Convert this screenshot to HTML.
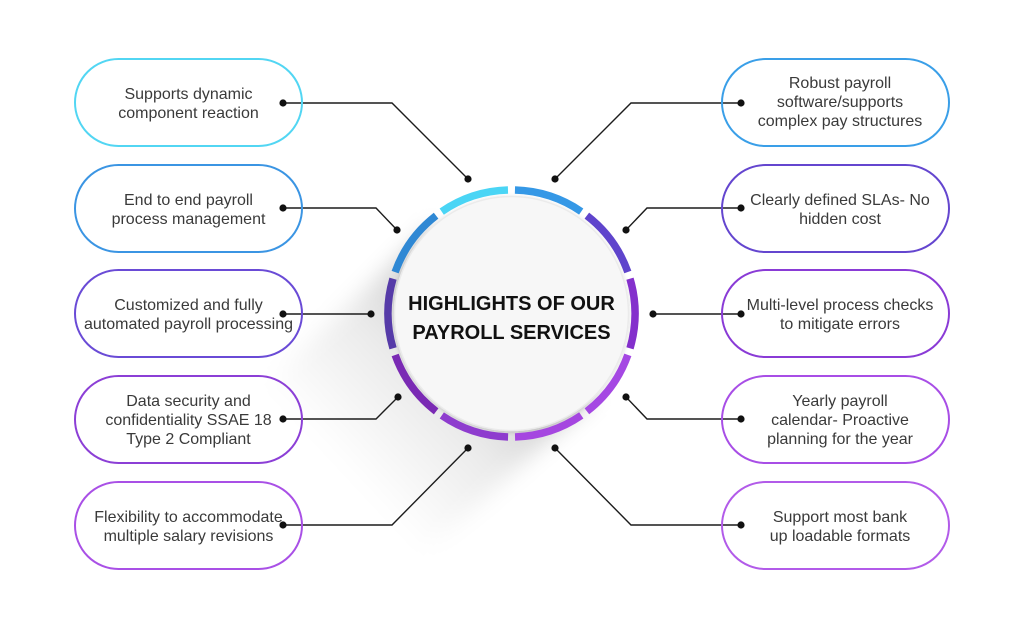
<!DOCTYPE html>
<html>
<head>
<meta charset="utf-8">
<style>
  html,body{margin:0;padding:0;background:#ffffff;}
  svg{display:block;}
  .t{font-family:"Liberation Sans",Arial,sans-serif;font-size:16px;fill:#3a3a3a;text-anchor:middle;}
  .h{font-family:"Liberation Sans",Arial,sans-serif;font-size:20px;font-weight:bold;fill:#111;text-anchor:middle;}
</style>
</head>
<body>
<svg width="1024" height="637" viewBox="0 0 1024 637" xmlns="http://www.w3.org/2000/svg">
  <defs>
    <linearGradient id="sg" x1="0" y1="0" x2="0" y2="1">
      <stop offset="0" stop-color="#000" stop-opacity="0.24"/>
      <stop offset="0.5" stop-color="#000" stop-opacity="0.08"/>
      <stop offset="1" stop-color="#000" stop-opacity="0"/>
    </linearGradient>
    <filter id="blur" x="-50%" y="-50%" width="200%" height="200%">
      <feGaussianBlur stdDeviation="11"/>
    </filter>
    <filter id="cs" x="-20%" y="-20%" width="140%" height="140%">
      <feDropShadow dx="0" dy="1" stdDeviation="2" flood-color="#000" flood-opacity="0.15"/>
    </filter>
  </defs>

  <!-- long shadow -->
  <g transform="rotate(47 511.5 313.5)" filter="url(#blur)">
    <rect x="394.5" y="313.5" width="234" height="230" fill="url(#sg)"/>
  </g>

  <!-- connectors -->
  <g fill="none" stroke="#1c1c1c" stroke-width="1.4">
    <polyline points="283,103 392,103 468,179"/>
    <polyline points="283,208 376,208 397,230"/>
    <polyline points="283,314 371,314"/>
    <polyline points="283,419 376,419 398,397"/>
    <polyline points="283,525 392,525 468,448"/>
    <polyline points="741,103 631,103 555,179"/>
    <polyline points="741,208 647,208 626,230"/>
    <polyline points="741,314 653,314"/>
    <polyline points="741,419 647,419 626,397"/>
    <polyline points="741,525 631,525 555,448"/>
  </g>

  <!-- boxes -->
  <g fill="none" stroke-width="2">
    <rect x="75" y="59" width="227" height="87" rx="43.5" stroke="#52d6f3"/>
    <rect x="75" y="165" width="227" height="87" rx="43.5" stroke="#3b95e3"/>
    <rect x="75" y="270" width="227" height="87" rx="43.5" stroke="#6a4bd6"/>
    <rect x="75" y="376" width="227" height="87" rx="43.5" stroke="#8c3fd6"/>
    <rect x="75" y="482" width="227" height="87" rx="43.5" stroke="#a950e6"/>
    <rect x="722" y="59" width="227" height="87" rx="43.5" stroke="#3a9fe8"/>
    <rect x="722" y="165" width="227" height="87" rx="43.5" stroke="#6446cf"/>
    <rect x="722" y="270" width="227" height="87" rx="43.5" stroke="#8a3bd6"/>
    <rect x="722" y="376" width="227" height="87" rx="43.5" stroke="#a84ee6"/>
    <rect x="722" y="482" width="227" height="87" rx="43.5" stroke="#b25be9"/>
  </g>

  <!-- box texts left -->
  <text class="t" x="188.5" y="99">Supports dynamic</text>
  <text class="t" x="188.5" y="118">component reaction</text>

  <text class="t" x="188.5" y="205">End to end payroll</text>
  <text class="t" x="188.5" y="224">process management</text>

  <text class="t" x="188.5" y="310">Customized and fully</text>
  <text class="t" x="188.5" y="329">automated payroll processing</text>

  <text class="t" x="188.5" y="406">Data security and</text>
  <text class="t" x="188.5" y="425">confidentiality SSAE 18</text>
  <text class="t" x="188.5" y="444">Type 2 Compliant</text>

  <text class="t" x="188.5" y="522">Flexibility to accommodate</text>
  <text class="t" x="188.5" y="541">multiple salary revisions</text>

  <!-- box texts right -->
  <text class="t" x="840" y="88">Robust payroll</text>
  <text class="t" x="840" y="107">software/supports</text>
  <text class="t" x="840" y="126">complex pay structures</text>

  <text class="t" x="840" y="205">Clearly defined SLAs- No</text>
  <text class="t" x="840" y="224">hidden cost</text>

  <text class="t" x="840" y="310">Multi-level process checks</text>
  <text class="t" x="840" y="329">to mitigate errors</text>

  <text class="t" x="840" y="406">Yearly payroll</text>
  <text class="t" x="840" y="425">calendar- Proactive</text>
  <text class="t" x="840" y="444">planning for the year</text>

  <text class="t" x="840" y="522">Support most bank</text>
  <text class="t" x="840" y="541">up loadable formats</text>

  <!-- dots -->
  <g fill="#111">
    <circle cx="283" cy="103" r="3.6"/><circle cx="468" cy="179" r="3.6"/>
    <circle cx="283" cy="208" r="3.6"/><circle cx="397" cy="230" r="3.6"/>
    <circle cx="283" cy="314" r="3.6"/><circle cx="371" cy="314" r="3.6"/>
    <circle cx="283" cy="419" r="3.6"/><circle cx="398" cy="397" r="3.6"/>
    <circle cx="283" cy="525" r="3.6"/><circle cx="468" cy="448" r="3.6"/>
    <circle cx="741" cy="103" r="3.6"/><circle cx="555" cy="179" r="3.6"/>
    <circle cx="741" cy="208" r="3.6"/><circle cx="626" cy="230" r="3.6"/>
    <circle cx="741" cy="314" r="3.6"/><circle cx="653" cy="314" r="3.6"/>
    <circle cx="741" cy="419" r="3.6"/><circle cx="626" cy="397" r="3.6"/>
    <circle cx="741" cy="525" r="3.6"/><circle cx="555" cy="448" r="3.6"/>
  </g>

  <!-- center circle -->
  <circle cx="511.5" cy="313.5" r="117" fill="#f7f7f7" stroke="#ebebeb" stroke-width="1.5" filter="url(#cs)"/>

  <!-- ring segments -->
  <g fill="none" stroke-width="7.5">
    <circle cx="511.5" cy="313.5" r="123.5" stroke="#3598e6" stroke-dasharray="70.6 705.4" transform="rotate(-88.4 511.5 313.5)"/>
    <circle cx="511.5" cy="313.5" r="123.5" stroke="#5f44cc" stroke-dasharray="70.6 705.4" transform="rotate(-52.4 511.5 313.5)"/>
    <circle cx="511.5" cy="313.5" r="123.5" stroke="#8430cc" stroke-dasharray="70.6 705.4" transform="rotate(-16.4 511.5 313.5)"/>
    <circle cx="511.5" cy="313.5" r="123.5" stroke="#a548e3" stroke-dasharray="70.6 705.4" transform="rotate(19.6 511.5 313.5)"/>
    <circle cx="511.5" cy="313.5" r="123.5" stroke="#a546e0" stroke-dasharray="70.6 705.4" transform="rotate(55.6 511.5 313.5)"/>
    <circle cx="511.5" cy="313.5" r="123.5" stroke="#8e3cce" stroke-dasharray="70.6 705.4" transform="rotate(91.6 511.5 313.5)"/>
    <circle cx="511.5" cy="313.5" r="123.5" stroke="#7a2ab4" stroke-dasharray="70.6 705.4" transform="rotate(127.6 511.5 313.5)"/>
    <circle cx="511.5" cy="313.5" r="123.5" stroke="#563ba8" stroke-dasharray="70.6 705.4" transform="rotate(163.6 511.5 313.5)"/>
    <circle cx="511.5" cy="313.5" r="123.5" stroke="#2f88d4" stroke-dasharray="70.6 705.4" transform="rotate(199.6 511.5 313.5)"/>
    <circle cx="511.5" cy="313.5" r="123.5" stroke="#4ad5f5" stroke-dasharray="70.6 705.4" transform="rotate(235.6 511.5 313.5)"/>
  </g>

  <text class="h" x="511.5" y="310">HIGHLIGHTS OF OUR</text>
  <text class="h" x="511.5" y="339">PAYROLL SERVICES</text>
</svg>
</body>
</html>
